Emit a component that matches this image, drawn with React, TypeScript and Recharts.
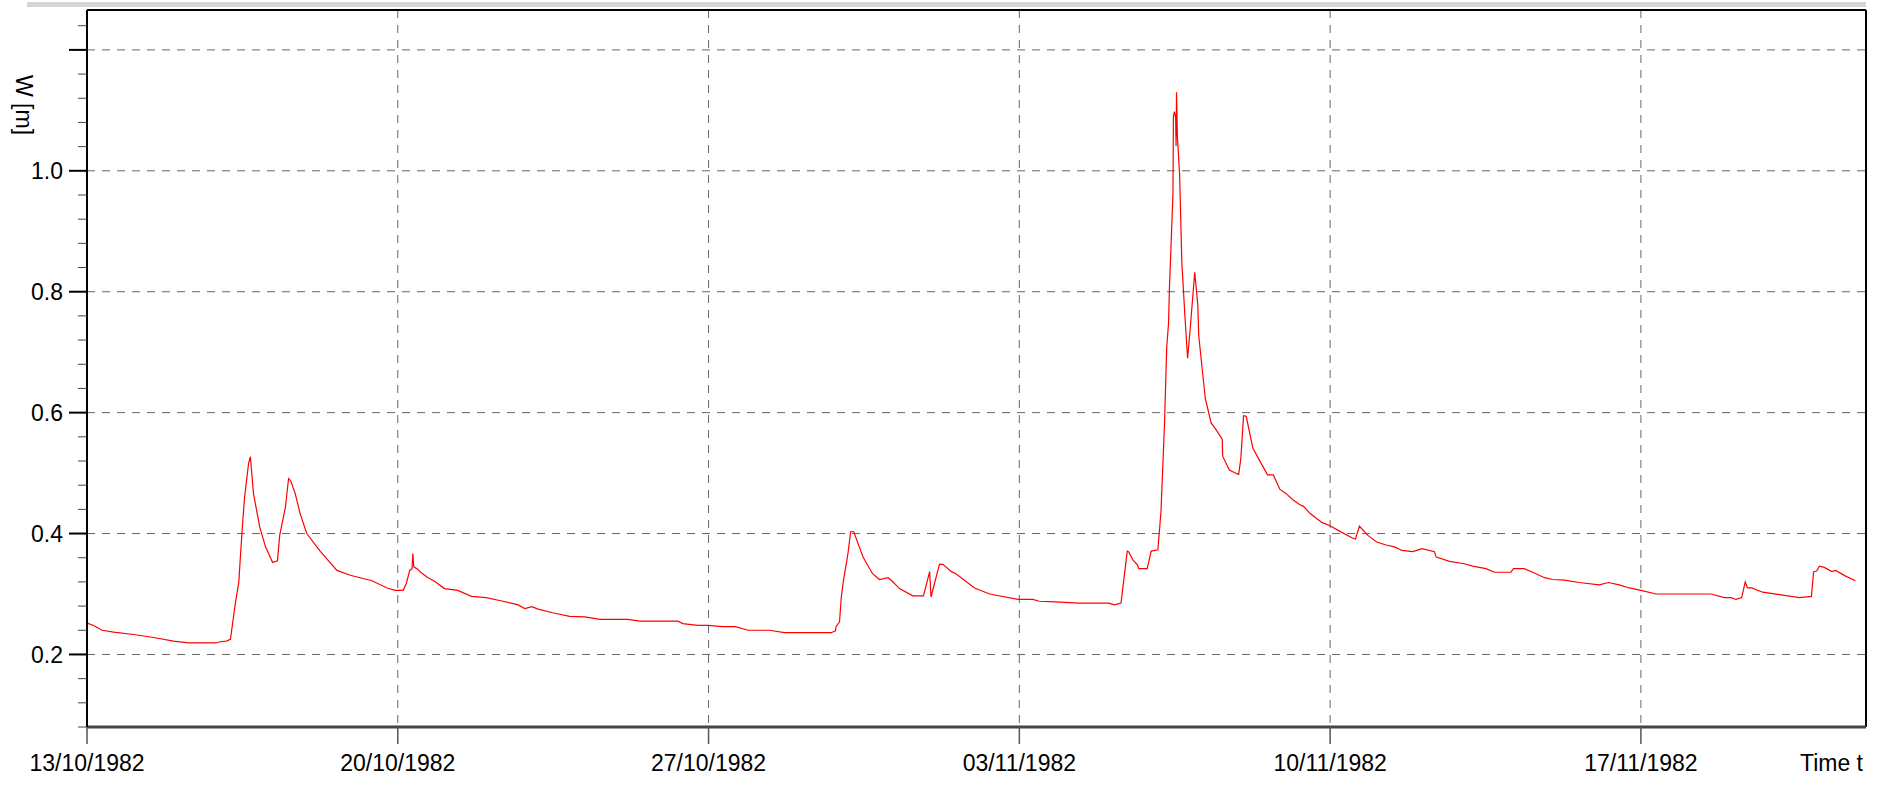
import React from 'react';
import { LineChart, Line, XAxis, YAxis, CartesianGrid, ReferenceLine } from 'recharts';

// days since 13/10/1982 00:00
const days: number[] = [
  0.00, 0.15, 0.34, 0.60, 1.05, 1.50, 1.95, 2.29, 2.89, 3.00, 3.14, 3.23, 3.27, 3.34, 3.42, 3.45, 3.51, 3.55, 3.64, 3.68,
  3.75, 3.89, 4.02, 4.09, 4.18, 4.29, 4.34, 4.47, 4.54, 4.59, 4.69, 4.80, 4.95, 5.26, 5.63, 5.93, 6.42, 6.76, 6.94, 7.12,
  7.19, 7.27, 7.32, 7.34, 7.36, 7.45, 7.53, 7.68, 7.83, 8.05, 8.35, 8.66, 8.99, 9.37, 9.71, 9.86, 10.02, 10.16, 10.49, 10.87,
  11.21, 11.55, 12.18, 12.45, 13.31, 13.42, 13.76, 13.99, 14.32, 14.61, 14.89, 15.37, 15.71, 16.76, 16.86, 16.87, 16.95, 16.99, 17.04, 17.14,
  17.20, 17.27, 17.48, 17.69, 17.85, 18.04, 18.14, 18.30, 18.60, 18.84, 18.98, 19.01, 19.20, 19.28, 19.47, 19.58, 19.99, 20.33, 20.97, 21.30,
  21.45, 21.80, 22.35, 23.01, 23.14, 23.29, 23.43, 23.46, 23.56, 23.65, 23.69, 23.88, 23.97, 24.12, 24.19, 24.27, 24.32, 24.36, 24.38, 24.46,
  24.47, 24.49, 24.52, 24.53, 24.54, 24.56, 24.61, 24.66, 24.73, 24.79, 24.85, 24.95, 25.02, 25.04, 25.12, 25.19, 25.32, 25.43, 25.57, 25.58,
  25.73, 25.84, 25.94, 25.99, 26.05, 26.11, 26.26, 26.59, 26.72, 26.87, 27.01, 27.16, 27.31, 27.40, 27.55, 27.82, 28.00, 28.21, 28.49, 28.57,
  28.66, 28.85, 29.05, 29.26, 29.45, 29.62, 29.86, 30.07, 30.35, 30.39, 30.69, 31.02, 31.21, 31.51, 31.70, 32.07, 32.13, 32.37, 32.56, 32.83,
  33.01, 33.28, 33.61, 34.06, 34.27, 34.51, 34.74, 35.00, 35.34, 36.58, 36.88, 37.03, 37.14, 37.27, 37.35, 37.40, 37.50, 37.74, 38.12, 38.57,
  38.84, 38.89, 38.96, 39.02, 39.13, 39.30, 39.39, 39.60, 39.83,
];

// W [m]
const levels: number[] = [
  0.252, 0.248, 0.240, 0.237, 0.233, 0.228, 0.222, 0.219, 0.219, 0.221, 0.222, 0.225, 0.246, 0.284, 0.320, 0.356, 0.422, 0.461, 0.516, 0.527,
  0.466, 0.411, 0.378, 0.367, 0.352, 0.355, 0.397, 0.444, 0.491, 0.487, 0.466, 0.433, 0.400, 0.370, 0.339, 0.331, 0.322, 0.310, 0.306, 0.306,
  0.317, 0.339, 0.342, 0.367, 0.345, 0.341, 0.335, 0.327, 0.321, 0.309, 0.306, 0.296, 0.294, 0.288, 0.282, 0.276, 0.279, 0.275, 0.269, 0.263,
  0.262, 0.258, 0.258, 0.255, 0.255, 0.251, 0.248, 0.248, 0.246, 0.246, 0.240, 0.240, 0.236, 0.236, 0.239, 0.246, 0.254, 0.295, 0.323, 0.367,
  0.403, 0.403, 0.361, 0.334, 0.324, 0.327, 0.321, 0.309, 0.297, 0.297, 0.337, 0.295, 0.349, 0.349, 0.337, 0.333, 0.310, 0.300, 0.291, 0.291,
  0.288, 0.287, 0.285, 0.285, 0.282, 0.285, 0.371, 0.370, 0.356, 0.349, 0.342, 0.342, 0.371, 0.373, 0.436, 0.582, 0.709, 0.747, 0.804, 0.962,
  1.089, 1.098, 1.089, 1.041, 1.130, 1.057, 0.994, 0.848, 0.759, 0.690, 0.740, 0.832, 0.778, 0.728, 0.671, 0.623, 0.583, 0.572, 0.556, 0.528,
  0.505, 0.501, 0.498, 0.525, 0.595, 0.594, 0.541, 0.497, 0.497, 0.473, 0.466, 0.456, 0.448, 0.445, 0.433, 0.418, 0.413, 0.404, 0.393, 0.391,
  0.412, 0.397, 0.386, 0.381, 0.378, 0.372, 0.370, 0.375, 0.370, 0.361, 0.354, 0.350, 0.346, 0.342, 0.336, 0.336, 0.342, 0.342, 0.336, 0.327,
  0.324, 0.323, 0.319, 0.315, 0.319, 0.315, 0.310, 0.306, 0.300, 0.300, 0.294, 0.294, 0.291, 0.294, 0.320, 0.310, 0.310, 0.303, 0.299, 0.294,
  0.296, 0.337, 0.338, 0.346, 0.344, 0.337, 0.339, 0.330, 0.322,
];

const xTicks: number[] = [0, 7, 14, 21, 28, 35];
const xTickLabels: string[] = ['13/10/1982', '20/10/1982', '27/10/1982', '03/11/1982', '10/11/1982', '17/11/1982'];
const xDomain: [number, number] = [0, 40.07];

const yMajorTicks: number[] = [0.2, 0.4, 0.6, 0.8, 1.0, 1.2];
const yLabelledTicks: string[] = ['0.2', '0.4', '0.6', '0.8', '1.0'];
const yAllTicks: number[] = [
  0.08, 0.12, 0.16, 0.2, 0.24, 0.28, 0.32, 0.36, 0.4, 0.44, 0.48, 0.52, 0.56, 0.6,
  0.64, 0.68, 0.72, 0.76, 0.8, 0.84, 0.88, 0.92, 0.96, 1.0, 1.04, 1.08, 1.12, 1.16, 1.2, 1.24,
];
const yDomain: [number, number] = [0.08, 1.266];

const data = days.map((d, i) => ({ t: d, w: levels[i] }));

const FONT = '"Liberation Sans", Arial, sans-serif';
const AXIS_X = 87;
const AXIS_Y = 727;

const YTick = (props: any) => {
  const { y, payload } = props;
  const v = Math.round(payload.value * 100) / 100;
  const major = yMajorTicks.some((m) => Math.abs(m - v) < 1e-6);
  const txt = v.toFixed(1);
  const showLabel = major && yLabelledTicks.includes(txt);
  return (
    <g>
      <line
        x1={AXIS_X - (major ? 18 : 9)}
        x2={AXIS_X}
        y1={y}
        y2={y}
        stroke={major ? '#000' : '#444'}
        strokeWidth={major ? 2 : 1}
      />
      {showLabel && (
        <text x={63} y={y} dy="0.36em" textAnchor="end" fontSize={23} fontFamily={FONT} fill="#000">
          {txt}
        </text>
      )}
    </g>
  );
};

const XTick = (props: any) => {
  const { x, payload } = props;
  const idx = xTicks.indexOf(payload.value);
  return (
    <g>
      <line x1={x} x2={x} y1={AXIS_Y} y2={AXIS_Y + 17} stroke="#555" strokeWidth={1.5} />
      <text x={x} y={771} textAnchor="middle" fontSize={23} fontFamily={FONT} fill="#000">
        {idx >= 0 ? xTickLabels[idx] : ''}
      </text>
    </g>
  );
};

const yLabel = () => (
  <text x={16} y={105} transform="rotate(90 16 105)" textAnchor="middle" fontSize={23} fontFamily={FONT} fill="#000">
    W [m]
  </text>
);

const xLabel = () => (
  <text x={1863} y={771} textAnchor="end" fontSize={23} fontFamily={FONT} fill="#000">
    Time t
  </text>
);

export default function App() {
  return (
    <div style={{ position: 'relative', width: 1886, height: 789, margin: -8, background: '#fff' }}>
      <LineChart width={1886} height={789} data={data} margin={{ top: 10, right: 20, left: 0, bottom: 0 }}>
        <CartesianGrid
          stroke="#666"
          strokeDasharray="8 7"
          horizontalValues={yMajorTicks}
          verticalValues={xTicks}
        />
        <XAxis
          dataKey="t"
          type="number"
          domain={xDomain}
          allowDataOverflow
          ticks={xTicks}
          interval={0}
          height={62}
          tickLine={false}
          axisLine={{ stroke: '#444', strokeWidth: 3 }}
          tick={<XTick />}
          label={xLabel}
        />
        <YAxis
          type="number"
          domain={yDomain}
          allowDataOverflow
          ticks={yAllTicks}
          interval={0}
          width={87}
          tickLine={false}
          axisLine={{ stroke: '#000', strokeWidth: 2 }}
          tick={<YTick />}
          label={yLabel}
        />
        <ReferenceLine y={yDomain[1]} stroke="#000" strokeWidth={2} ifOverflow="visible" />
        <ReferenceLine x={xDomain[1]} stroke="#000" strokeWidth={2} ifOverflow="visible" />
        <Line
          type="linear"
          dataKey="w"
          stroke="#ff0000"
          strokeWidth={1.2}
          dot={false}
          isAnimationActive={false}
        />
      </LineChart>
      <div
        style={{
          position: 'fixed',
          left: 27,
          top: 2,
          width: 1839,
          height: 5,
          background: '#d6d6d6',
          zIndex: 10,
        }}
      />
    </div>
  );
}
